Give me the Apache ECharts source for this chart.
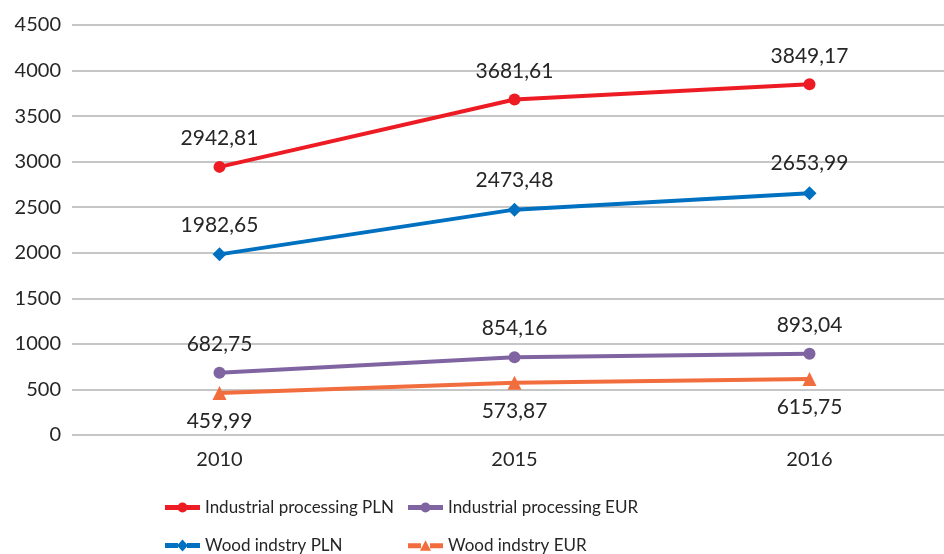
<!DOCTYPE html>
<html><head><meta charset="utf-8">
<script src="https://cdn.jsdelivr.net/npm/echarts@6/dist/echarts.min.js"></script>
<style>html,body{margin:0;padding:0;background:#fff}#c{width:944px;height:554px}</style>
</head><body><div id="c"></div>
<script>
const categories = ['2010', '2015', '2016'];
const indProcPLN = [2942.81, 3681.61, 3849.17];
const woodPLN = [1982.65, 2473.48, 2653.99];
const indProcEUR = [682.75, 854.16, 893.04];
const woodEUR = [459.99, 573.87, 615.75];
const seriesNames = ['Industrial processing PLN', 'Industrial processing EUR', 'Wood indstry PLN', 'Wood indstry EUR'];

const FONT = 'Lato';
const TXT = '#262626';
const fmt = v => v.toFixed(2).replace('.', ',');

const BAR = 'M0,3.5 L13,3.5 L13,8.5 L0,8.5 Z M22,3.5 L35,3.5 L35,8.5 L22,8.5 Z ';
const ICONS = {
  circle: 'path://' + BAR + 'M12.5,6 A5,5 0 1,1 22.5,6 A5,5 0 1,1 12.5,6 Z',
  diamond: 'path://' + BAR + 'M17.5,0 L23,6 L17.5,12 L12,6 Z',
  triangle: 'path://' + BAR + 'M17.5,0.5 L23,11 L12,11 Z'
};

function mk(name, data, color, symbol, size, pos) {
  return {
    name, type: 'line', data, symbol, symbolSize: size,
    itemStyle: { color }, lineStyle: { color, width: 4 },
    label: { show: true, position: pos, distance: pos === 'top' ? 12 : 11,
      fontFamily: FONT, fontSize: 21, color: TXT,
      formatter: p => fmt(p.value) },
    z: 3
  };
}
function lg(name, symbol, left, top) {
  return { data: [{ name, icon: ICONS[symbol] }], left, top, itemWidth: 35, itemHeight: 12,
    padding: 0, itemGap: 0,
    textStyle: { fontFamily: FONT, fontSize: 17, color: TXT } };
}
const chart = echarts.init(document.getElementById('c'));
chart.setOption({
  animation: false,
  grid: { left: 72, right: -13, top: 25, bottom: 119, outerBoundsMode: 'none', containLabel: false },
  xAxis: { type: 'category', data: categories, boundaryGap: true,
    axisLine: { show: false }, axisTick: { show: false },
    axisLabel: { fontFamily: FONT, fontSize: 20, color: TXT, margin: 15 } },
  yAxis: { type: 'value', min: 0, max: 4500, interval: 500,
    axisLine: { show: false }, axisTick: { show: false },
    splitLine: { lineStyle: { color: '#b3b3b3', width: 1.5 } },
    axisLabel: { fontFamily: FONT, fontSize: 20, color: TXT, margin: 11, formatter: v => String(v) } },
  legend: [
    lg(seriesNames[0], 'circle', 165, 499),
    lg(seriesNames[1], 'circle', 408, 499),
    lg(seriesNames[2], 'diamond', 165, 537),
    lg(seriesNames[3], 'triangle', 408, 537)
  ],
  series: [
    mk(seriesNames[0], indProcPLN, '#ED1C24', 'circle', 12, 'top'),
    mk(seriesNames[1], indProcEUR, '#8064A2', 'circle', 12, 'top'),
    mk(seriesNames[2], woodPLN, '#0070C0', 'diamond', 14, 'top'),
    mk(seriesNames[3], woodEUR, '#F26D3D', 'triangle', 14, 'bottom')
  ]
});
</script></body></html>
